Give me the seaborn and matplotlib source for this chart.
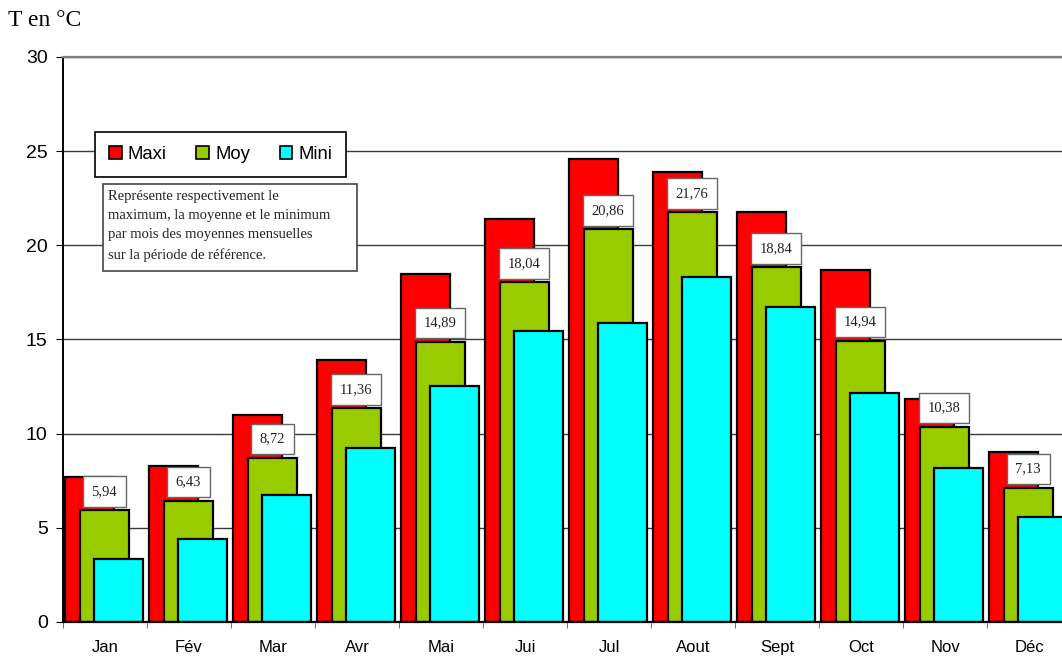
import numpy as np
import matplotlib
matplotlib.use("Agg")
import matplotlib.pyplot as plt
from matplotlib.patches import Patch, Rectangle
import seaborn as sns

# ---- data ----
months = ["Jan", "Fév", "Mar", "Avr", "Mai", "Jui", "Jul", "Aout", "Sept", "Oct", "Nov", "Déc"]
maxi = [7.68, 8.28, 11.01, 13.91, 18.48, 21.40, 24.60, 23.92, 21.79, 18.68, 11.84, 9.04]
moy = [5.94, 6.43, 8.72, 11.36, 14.89, 18.04, 20.86, 21.76, 18.84, 14.94, 10.38, 7.13]
mini = [3.33, 4.39, 6.73, 9.24, 12.55, 15.47, 15.88, 18.30, 16.74, 12.14, 8.18, 5.56]
moy_labels = ["5,94", "6,43", "8,72", "11,36", "14,89", "18,04", "20,86", "21,76", "18,84", "14,94", "10,38", "7,13"]
series_names = ["Maxi", "Moy", "Mini"]
yticks = [0, 5, 10, 15, 20, 25, 30]
note = ("Représente respectivement le\n"
        "maximum, la moyenne et le minimum\n"
        "par mois des moyennes mensuelles\n"
        "sur la période de référence.")

# ---- style ----
colors = ["#FF0000", "#99CC00", "#00FFFF"]
offsets = [-0.185, -0.01, 0.165]
bar_w = 0.585
SANS = "Liberation Sans"
SERIF = "Liberation Serif"

W, H = 1062, 659
fig = plt.figure(figsize=(W / 100, H / 100), dpi=100)
ax = fig.add_axes([63 / W, 37 / H, 1008 / W, 565 / H])

idx = np.arange(len(months))
for vals, col, off in zip([maxi, moy, mini], colors, offsets):
    sns.barplot(x=idx + off, y=vals, native_scale=True, width=bar_w, color=col,
                saturation=1, edgecolor="black", linewidth=1.6, errorbar=None, ax=ax, zorder=2)

# value labels on Moy
for i, (v, lab) in enumerate(zip(moy, moy_labels)):
    ax.annotate(lab, xy=(i + offsets[1], v), xytext=(0, 13.5), textcoords="offset points",
                ha="center", va="center", fontsize=10.5, family=SERIF, color="#222222",
                bbox=dict(boxstyle="square,pad=0.6", facecolor="white", edgecolor="#666666", linewidth=1),
                zorder=5)

ax.set_xlim(-0.5, 11.5)
ax.set_ylim(0, 30)
ax.set_xticks(idx)
ax.set_xticklabels(months, family=SANS, fontsize=12)
ax.set_xticks(np.arange(-0.5, 12, 1), minor=True)
ax.tick_params(axis="x", which="major", length=0, pad=13)
ax.tick_params(axis="x", which="minor", length=4, direction="out", color="#555555")
ax.set_yticks(yticks)
ax.set_yticklabels([str(t) for t in yticks], family=SANS, fontsize=14)
ax.tick_params(axis="y", length=5, pad=6, color="black")
ax.set_xlabel("")
ax.set_ylabel("")

ax.yaxis.grid(True, color="#3a3a3a", linewidth=1, zorder=0)
ax.set_axisbelow(True)
ax.spines["right"].set_visible(False)
ax.spines["top"].set_color("#808080")
ax.spines["top"].set_linewidth(1.6)
ax.spines["left"].set_color("black")
ax.spines["left"].set_linewidth(1.4)
ax.spines["bottom"].set_color("black")
ax.spines["bottom"].set_linewidth(1.6)

# axis title
fig.text(8 / W, 1 - 10 / H, "T en °C", family=SERIF, fontsize=17, va="top", ha="left")

# legend
handles = [Patch(facecolor=c, edgecolor="black", linewidth=1.2, label=n) for c, n in zip(colors, series_names)]
leg = ax.legend(handles=handles, ncol=3, loc="upper left",
                bbox_to_anchor=(95 / W, 1 - 132 / H), bbox_transform=fig.transFigure,
                borderaxespad=0, frameon=True, fancybox=False, shadow=False,
                prop={"family": SANS, "size": 13.3}, handlelength=0.7, handleheight=0.7,
                handletextpad=0.32, columnspacing=1.6, borderpad=0.75)
leg.get_frame().set_edgecolor("black")
leg.get_frame().set_linewidth(1.2)
leg.get_frame().set_alpha(1)
leg.set_zorder(6)

# note box
rect = Rectangle((102.7 / W, 1 - 271 / H), (356.7 - 102.7) / W, (271 - 184) / H,
                 transform=fig.transFigure, facecolor="white", edgecolor="#444444",
                 linewidth=1.2, zorder=6)
fig.patches.append(rect)
fig.text(108 / W, 1 - 190 / H, note, family=SERIF, fontsize=10.5, va="top", ha="left",
         linespacing=1.62, color="#222222", zorder=7)

fig.savefig("out.png", dpi=100)
